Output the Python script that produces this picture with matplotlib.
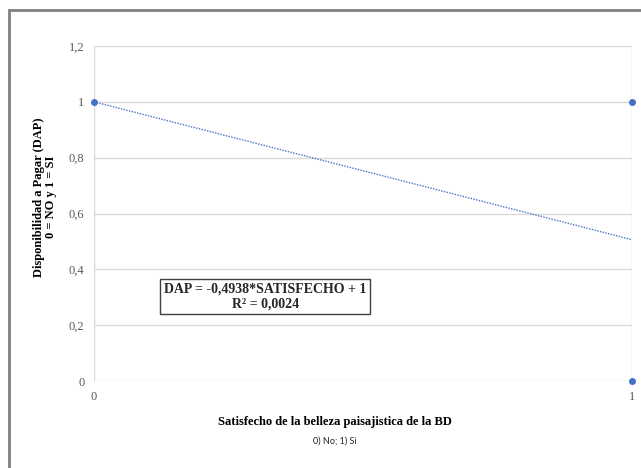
import numpy as np
from matplotlib import pyplot as plt
from matplotlib.patches import Rectangle

# Observed points (satisfied 0/1 vs willingness to pay 0/1)
satisfecho = [0, 1, 1]
dap = [1, 1, 0]

# Trendline from the reported regression
slope = -0.4938
intercept = 1.0
trend_x = [0, 1]

y_ticks = [0, 0.2, 0.4, 0.6, 0.8, 1.0, 1.2]
y_tick_labels = ['0', '0,2', '0,4', '0,6', '0,8', '1', '1,2']
x_ticks = [0, 1]
x_tick_labels = ['0', '1']

blue = '#4472C4'
grid_c = '#d9d9d9'
serif = ['Liberation Serif', 'DejaVu Serif']

fig = plt.figure(figsize=(6.41, 4.68), dpi=100)
ax = fig.add_axes([94 / 641, 1 - 381 / 468, (632 - 94) / 641, (381 - 46) / 468])

# Outer chart frame (only top and left visible, the rest is cropped)
fig.patches.append(Rectangle((9 / 641, -0.1), 1.2, 1 - 10 / 468 + 0.1,
                             transform=fig.transFigure, fill=False,
                             edgecolor='#808080', linewidth=2))

ty = [slope * x + intercept for x in trend_x]
ax.plot(trend_x, ty, color=blue, linestyle=(0, (1, 1)), linewidth=1)
ax.plot(satisfecho, dap, 'o', color=blue, markersize=4, clip_on=False, zorder=5)

ax.set_xlim(0, 1)
ax.set_ylim(0, 1.2)
ax.set_yticks(y_ticks)
ax.set_yticklabels(y_tick_labels, family=serif, fontsize=9, color='#595959')
ax.set_xticks(x_ticks)
ax.set_xticklabels(x_tick_labels, family=serif, fontsize=9, color='#595959')
ax.tick_params(axis='y', length=0, pad=7)
ax.tick_params(axis='x', length=0, pad=7)
ax.grid(True, color=grid_c, linewidth=1)
for s in ax.spines.values():
    s.set_visible(False)

fig.text(45 / 641, 1 - 197 / 468, 'Disponibilidad a Pagar (DAP)\n0 = NO y 1 = SI',
         rotation=90, ha='center', va='center', multialignment='center',
         family=serif, fontsize=9, fontweight='bold', linespacing=1.1)

fig.text(335 / 641, 1 - 422 / 468, 'Satisfecho de la belleza paisajistica de la BD',
         ha='center', va='center', family=serif, fontsize=9, fontweight='bold')
fig.text(335 / 641, 1 - 441 / 468, '0) No; 1) Si', ha='center', va='center',
         family=['Lato', 'DejaVu Sans'], fontsize=6.5, color='#262626')

ax.text(0.318, 0.304, 'DAP = -0,4938*SATISFECHO + 1\nR² = 0,0024', transform=ax.transData,
        ha='center', va='center', family=serif, fontsize=10, fontweight='bold',
        color='#262626', linespacing=1.2,
        bbox=dict(boxstyle='square,pad=0.25', facecolor='white', edgecolor='#404040', linewidth=1))

fig.savefig('out.png', dpi=100)
